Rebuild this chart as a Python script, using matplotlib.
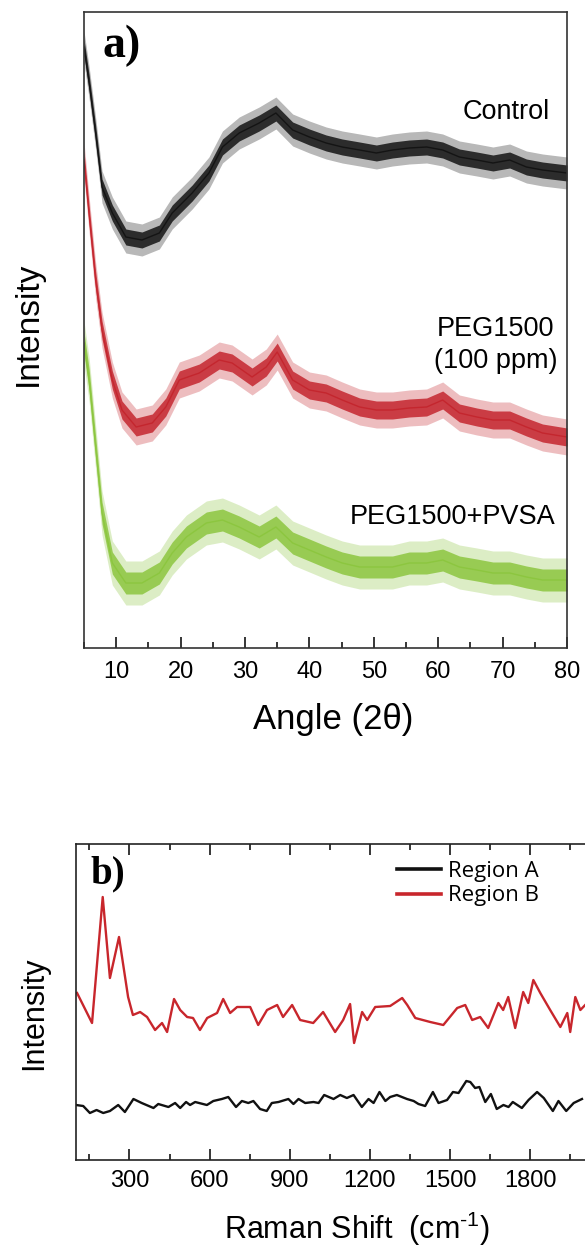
import matplotlib.pyplot as plt
from matplotlib.ticker import MultipleLocator, FixedLocator

plt.rcParams['font.family'] = ['Liberation Sans', 'DejaVu Sans']
plt.rcParams['mathtext.fontset'] = 'custom'
plt.rcParams['mathtext.rm'] = 'Liberation Sans'

# a) XRD, values (arbitrary intensity units)
angle_control = [5, 5.8, 6.8, 7.8, 9.4, 11.5, 14, 16.7, 18.7, 21.8, 24.4, 26.5, 29.1, 32.2, 34.8, 37.4,
                 40, 42.6, 45.1, 47.8, 50.4, 52.9, 55.5, 58.2, 60.7, 63.3, 66, 68.5, 71.1, 73.7, 76.2, 80]
int_control = [601, 565, 515, 461, 435, 411, 408, 415, 435, 455, 475, 501, 515, 525, 535, 518,
               511, 505, 501, 498, 495, 498, 500, 501, 498, 491, 488, 485, 488, 481, 478, 475]

angle_peg = [5, 5.8, 6.8, 7.8, 9.4, 10.9, 13.1, 15.6, 17.7, 19.8, 22.9, 26, 28, 31.1, 33.3, 35, 37.4,
             40, 42.6, 45.1, 47.8, 50.4, 52.9, 55.5, 58.2, 60.7, 63.3, 66, 68.5, 71.1, 73.7, 76.2, 80]
int_peg = [488, 433, 368, 318, 268, 238, 221, 225, 241, 268, 275, 288, 285, 271, 281, 296, 268,
           258, 255, 248, 241, 238, 238, 240, 241, 248, 235, 231, 228, 228, 221, 215, 211]

angle_pvsa = [5, 5.8, 6.8, 7.8, 9.4, 11.5, 14, 16.7, 18.7, 20.9, 24, 26.5, 29.1, 32.2, 34.8, 37.4,
              40, 42.6, 45.1, 47.8, 50.4, 52.9, 55.5, 58.2, 60.7, 63.3, 66, 68.5, 71.1, 73.7, 76.2, 80]
int_pvsa = [305, 268, 201, 135, 85, 65, 65, 75, 95, 111, 125, 128, 121, 111, 121, 105,
            98, 91, 85, 81, 81, 81, 85, 85, 88, 81, 78, 75, 75, 71, 68, 68]

# half width of the noise band of each trace (dense part, spikes reach about twice that)
noise_control = 8
noise_peg = 9
noise_pvsa = 11

# b) Raman
shift_a = [100, 127, 152, 177, 202, 227, 258, 283, 315, 346, 390, 408, 446, 471, 490, 512, 527, 546,
           590, 614, 646, 670, 699, 721, 745, 764, 789, 814, 833, 858, 895, 914, 933, 958, 989, 1008,
           1029, 1064, 1089, 1114, 1139, 1170, 1195, 1214, 1236, 1258, 1276, 1301, 1339, 1364, 1382,
           1407, 1436, 1457, 1489, 1511, 1532, 1561, 1576, 1594, 1610, 1632, 1653, 1675, 1700, 1719,
           1735, 1769, 1794, 1826, 1851, 1885, 1906, 1935, 1963, 1994]
int_a = [55, 54, 47, 50, 47, 49, 55, 48, 61, 57, 52, 56, 53, 57, 52, 58, 55, 58,
         55, 59, 61, 63, 53, 59, 57, 59, 51, 49, 57, 58, 61, 56, 61, 57, 58, 57,
         65, 61, 65, 62, 65, 53, 61, 57, 68, 59, 63, 65, 61, 59, 56,
         54, 68, 57, 60, 68, 67, 79, 78, 72, 73, 58, 66, 51, 55, 53,
         58, 52, 60, 68, 62, 49, 59, 49, 57, 61]

shift_b = [104, 160, 200, 227, 261, 295, 313, 340, 366, 396, 422, 441, 467, 490, 516, 538, 564, 591,
           628, 651, 677, 703, 752, 782, 815, 853, 875, 909, 939, 988, 1025, 1070, 1100, 1126, 1141,
           1171, 1190, 1220, 1276, 1321, 1340, 1370, 1426, 1475, 1527, 1557, 1583, 1613, 1643, 1681,
           1699, 1718, 1744, 1774, 1793, 1812, 1838, 1875, 1913, 1939, 1950, 1969, 1988, 2006]
int_b = [167, 137, 263, 182, 223, 163, 145, 148, 143, 130, 137, 128, 161, 150, 143, 142, 130, 142,
         147, 161, 147, 153, 153, 135, 150, 155, 143, 155, 140, 137, 148, 128, 140, 156, 117,
         148, 140, 153, 154, 162, 155, 142, 138, 135, 152, 155, 140, 143, 132, 157,
         150, 163, 132, 168, 157, 180, 167, 150, 133, 147, 128, 163, 150, 155]

raman_ticks = [300, 600, 900, 1200, 1500, 1800]

fig = plt.figure(figsize=(5.85, 12.47), dpi=100)

# ---- panel a ----
ax1 = fig.add_axes([84 / 585, 1 - 648 / 1247, 483 / 585, 636 / 1247])
for x, y, w, c in [(angle_control, int_control, noise_control, '#141414'),
                   (angle_peg, int_peg, noise_peg, '#c4262e'),
                   (angle_pvsa, int_pvsa, noise_pvsa, '#8cc63f')]:
    ax1.fill_between(x, [v - 2 * w for v in y], [v + 2 * w for v in y], color=c, alpha=0.3, lw=0)
    ax1.fill_between(x, [v - w for v in y], [v + w for v in y], color=c, alpha=0.85, lw=0)
    ax1.plot(x, y, color=c, lw=1.0)

ax1.set_xlim(5, 80)
ax1.set_ylim(0, 636)
ax1.set_yticks([])
ax1.xaxis.set_major_locator(MultipleLocator(10))
ax1.xaxis.set_minor_locator(MultipleLocator(5))
ax1.tick_params(axis='x', which='major', direction='in', length=8, width=1.1, labelsize=17, pad=9)
ax1.tick_params(axis='x', which='minor', direction='in', length=4, width=1.1)
for s in ax1.spines.values():
    s.set_linewidth(1.2)
    s.set_color('#333333')

ax1.text(77.3, 536, 'Control', ha='right', va='center', fontsize=19.5)
ax1.text(68.9, 303, 'PEG1500\n(100 ppm)', ha='center', va='center', fontsize=19.5, linespacing=1.25)
ax1.text(78.25, 131, 'PEG1500+PVSA', ha='right', va='center', fontsize=19.5)
ax1.text(0.039, 0.9465, 'a)', transform=ax1.transAxes, ha='left', va='center',
         fontsize=33, fontweight='bold', family='Liberation Serif')

fig.text(333.5 / 585, 1 - 719 / 1247, 'Angle (2θ)', ha='center', va='center', fontsize=25)
fig.text(28 / 585, 1 - 324 / 1247, 'Intensity', rotation=90, ha='center', va='center', fontsize=24)

# ---- panel b ----
ax2 = fig.add_axes([76 / 585, 1 - 1160 / 1247, 561 / 585, 316 / 1247])
ax2.plot(shift_a, int_a, color='#111111', lw=1.7, label='Region A')
ax2.plot(shift_b, int_b, color='#c8262c', lw=1.7, label='Region B')

ax2.set_xlim(100, 2200)
ax2.set_ylim(0, 316)
ax2.set_yticks([])
ax2.xaxis.set_major_locator(FixedLocator(raman_ticks))
ax2.xaxis.set_minor_locator(MultipleLocator(150))
ax2.tick_params(axis='x', which='major', direction='in', top=True, length=8, width=1.1,
                labelsize=17, pad=7)
ax2.tick_params(axis='x', which='minor', direction='in', top=True, length=4, width=1.1)
for s in ax2.spines.values():
    s.set_linewidth(1.2)
    s.set_color('#222222')

ax2.text(0.025, 0.905, 'b)', transform=ax2.transAxes, ha='left', va='center',
         fontsize=28, fontweight='bold', family='Liberation Serif')
ax2.legend(loc='upper left', bbox_to_anchor=(397 / 585, 1 - 861 / 1247), bbox_transform=fig.transFigure,
           frameon=False, prop={'family': 'Open Sans', 'size': 16}, handlelength=2.0,
           handletextpad=0.3, borderpad=0, borderaxespad=0, labelspacing=0.15)
for line in ax2.get_legend().get_lines():
    line.set_linewidth(2.6)

fig.text(357 / 585, 1 - 1229 / 1247, r'Raman Shift  (cm$^{\text{-1}}$)', ha='center', va='center',
         fontsize=22)
fig.text(34.5 / 585, 1 - 1013 / 1247, 'Intensity', rotation=90, ha='center', va='center', fontsize=22)

fig.savefig('out.png', dpi=100)
